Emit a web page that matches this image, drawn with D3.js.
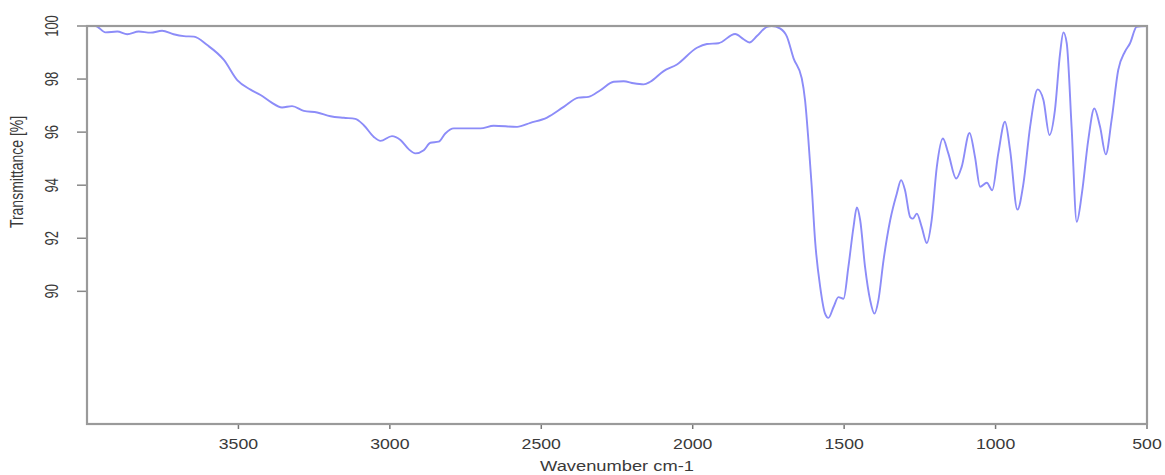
<!DOCTYPE html>
<meta charset="utf-8">
<script src="https://d3js.org/d3.v7.min.js"></script>
<style>
  body { margin: 0; background: #fff; }
  text { font-family: "Liberation Sans", Arial, sans-serif; fill: #3a3a3a; }
</style>
<div id="my_dataviz"></div>
<script>
// spectrum (wavenumber cm-1, transmittance %)
var wavenumber = [4000, 3972, 3939, 3900, 3867, 3829, 3790, 3752, 3714, 3680, 3647, 3603, 3548, 3504,
  3460, 3427, 3394, 3356, 3323, 3284, 3240, 3196, 3152, 3114, 3086, 3053, 3031, 2993, 2965, 2938,
  2916, 2888, 2866, 2839, 2817, 2789, 2767, 2701, 2657, 2580, 2536, 2481, 2426, 2377, 2344, 2305,
  2261, 2228, 2195, 2162, 2140, 2096, 2052, 1986, 1953, 1915, 1860, 1832, 1813, 1788, 1755, 1739,
  1712, 1689, 1667, 1640, 1629, 1618, 1607, 1596, 1579, 1563, 1552, 1535, 1519, 1502, 1486, 1469,
  1458, 1447, 1431, 1414, 1400, 1387, 1370, 1348, 1326, 1312, 1299, 1282, 1273, 1260, 1244, 1227,
  1211, 1194, 1174, 1156, 1130, 1112, 1086, 1068, 1051, 1029, 1011, 991, 969, 952, 928, 908,
  886, 861, 842, 822, 804, 787, 776, 765, 749, 732, 715, 694, 674, 655, 636, 617,
  595, 573, 556, 534, 500];
var transmittance = [100, 100, 99.76, 99.79, 99.69, 99.79, 99.75, 99.82, 99.69, 99.62, 99.6, 99.28, 98.72, 97.96,
  97.6, 97.4, 97.14, 96.93, 96.98, 96.8, 96.74, 96.6, 96.54, 96.5, 96.26, 95.82, 95.67, 95.85, 95.7, 95.36,
  95.2, 95.32, 95.6, 95.64, 95.95, 96.14, 96.14, 96.14, 96.24, 96.2, 96.35, 96.55, 96.95, 97.3, 97.33, 97.58,
  97.9, 97.92, 97.84, 97.8, 97.9, 98.3, 98.55, 99.18, 99.32, 99.35, 99.7, 99.5, 99.38, 99.62, 99.97, 100,
  99.91, 99.6, 98.78, 98.03, 97.2, 95.7, 93.94, 91.92, 90.16, 89.16, 89.0, 89.41, 89.78, 89.72, 90.92, 92.43,
  93.16, 92.68, 90.92, 89.66, 89.16, 89.66, 91.17, 92.68, 93.69, 94.19, 93.81, 92.8, 92.74, 92.93, 92.43, 91.82,
  92.68, 94.69, 95.76, 95.2, 94.25, 94.69, 95.97, 95.07, 93.94, 94.09, 93.81, 95.2, 96.39, 95.32, 93.08, 94.06,
  96.2, 97.61, 97.21, 95.89, 96.83, 98.97, 99.76, 99.35, 96.2, 92.62, 93.69, 95.7, 96.89, 96.2, 95.16, 96.45,
  98.34, 99.03, 99.35, 99.97, 100];

var xTicks = [3500, 3000, 2500, 2000, 1500, 1000, 500];
var yTicks = [90, 92, 94, 96, 98, 100];

var data = wavenumber.map(function (w, i) { return { wn: w, t: transmittance[i] }; });

var margin = { top: 26, right: 18, bottom: 51, left: 87 },
    width = 1165 - margin.left - margin.right,
    height = 475 - margin.top - margin.bottom;

var svg = d3.select("#my_dataviz")
  .append("svg")
  .attr("width", 1165)
  .attr("height", 475)
  .append("g")
  .attr("transform", "translate(" + margin.left + "," + margin.top + ")");

var x = d3.scaleLinear().domain([4000, 500]).range([0, width]);
var y = d3.scaleLinear().domain([85, 100]).range([height, 0]);

// X axis: short ticks, stretched labels
var xg = svg.append("g").attr("transform", "translate(0," + height + ")");
xg.selectAll("line").data(xTicks).enter().append("line")
  .attr("x1", d => x(d)).attr("x2", d => x(d))
  .attr("y1", 0).attr("y2", 5)
  .attr("stroke", "#777").attr("stroke-width", 1.5);
xg.selectAll("text").data(xTicks).enter().append("text")
  .attr("transform", d => "translate(" + x(d) + ",25) scale(1.18,1)")
  .attr("text-anchor", "middle")
  .style("font-size", "15px")
  .text(d => d);

// Y axis: ticks going left, rotated labels
var yg = svg.append("g");
yg.selectAll("line").data(yTicks).enter().append("line")
  .attr("x1", -10).attr("x2", 0)
  .attr("y1", d => y(d)).attr("y2", d => y(d))
  .attr("stroke", "#888").attr("stroke-width", 1.5);
yg.selectAll("text").data(yTicks).enter().append("text")
  .attr("transform", d => "translate(-29," + y(d) + ") scale(1.4,1) rotate(-90)")
  .attr("text-anchor", "middle")
  .style("font-size", "13px")
  .text(d => d);

// axis titles
svg.append("text")
  .attr("transform", "translate(" + (width / 2) + "," + (height + 47) + ") scale(1.22,1)")
  .attr("text-anchor", "middle")
  .style("font-size", "15px")
  .text("Wavenumber cm-1");
svg.append("text")
  .attr("transform", "translate(-64,146) scale(1.3,1) rotate(-90)")
  .attr("text-anchor", "middle")
  .style("font-size", "14px")
  .text("Transmittance [%]");

// spectrum
svg.append("path")
  .datum(data)
  .attr("fill", "none")
  .attr("stroke", "#8c8cf8")
  .attr("stroke-width", 1.9)
  .attr("d", d3.line()
    .x(d => x(d.wn))
    .y(d => y(d.t))
    .curve(d3.curveMonotoneX));

// frame
svg.append("rect")
  .attr("x", 0).attr("y", 0)
  .attr("width", width).attr("height", height)
  .attr("fill", "none")
  .attr("stroke", "#9a9a9a")
  .attr("stroke-width", 2.2);
</script>
